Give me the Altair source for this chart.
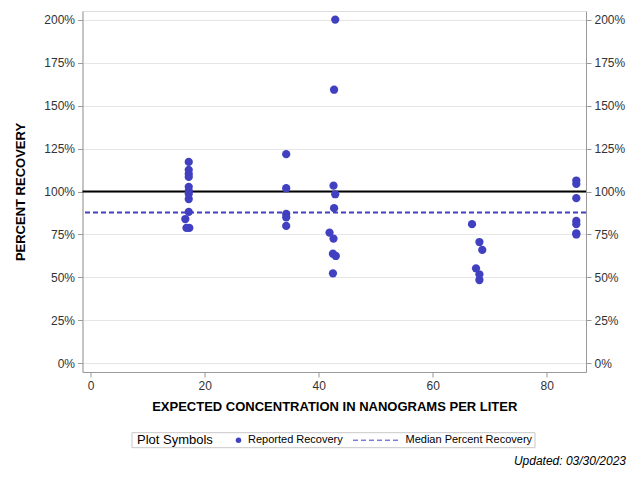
import altair as alt
import pandas as pd

# ---- data ----
conc = [17.2, 17.2, 17.2, 17.2, 17.2, 17.2, 17.2, 17.2, 17.2, 16.6, 16.8, 17.3,
        34.3, 34.3, 34.3, 34.3, 34.3,
        42.9, 42.7, 42.6, 42.9, 42.7, 41.9, 42.6, 42.5, 43.0, 42.5,
        66.9, 68.2, 68.7, 67.6, 68.2, 68.2,
        85.2, 85.2, 85.2, 85.2, 85.2, 85.2, 85.2]
recovery = [117.2, 112.6, 110.3, 108.5, 102.7, 100.4, 98.7, 95.6, 88.1, 84.0, 78.8, 78.8,
            121.7, 101.9, 87.0, 85.0, 80.0,
            200.0, 159.2, 103.4, 98.4, 90.3, 76.1, 72.6, 63.8, 62.5, 52.4,
            81.0, 70.6, 66.0, 55.3, 51.8, 48.5,
            106.4, 104.4, 96.1, 82.9, 81.0, 75.7, 75.0]
point_series = ["Reported Recovery"]
median_series = ["Median Percent Recovery"]
median_value = [87.8]
reference_value = [100]
y_ticks = [0, 25, 50, 75, 100, 125, 150, 175, 200]
x_ticks = [0, 20, 40, 60, 80]
updated_text = ["Updated: 03/30/2023"]

PT = "#4040C0"
AX = "#9a9a9a"
FONT = "Liberation Sans"

pts = pd.DataFrame({"conc": conc, "recovery": recovery,
                    "series": point_series * len(conc)})
med = pd.DataFrame({"recovery": median_value, "med": median_series})
ref = pd.DataFrame({"recovery": reference_value})
upd = pd.DataFrame({"t": updated_text})

W, H = 503.5, 361
xscale = alt.Scale(domain=[-1.44, 86.9], nice=False, zero=False)
yscale = alt.Scale(domain=[-5, 205], nice=False, zero=False)

common_axis = dict(values=y_ticks, labelExpr="datum.value + '%'", tickSize=5,
                   tickColor=AX, domainColor=AX, labelFontSize=12,
                   labelColor="#333333", labelFont=FONT, labelPadding=3)

yaxis_left = alt.Axis(title="PERCENT RECOVERY", grid=True, gridColor="#e6e6e6",
                      titleFontSize=13, titleFont=FONT, titleFontWeight="bold",
                      titleColor="#000000", titlePadding=16, orient="left",
                      **common_axis)
yaxis_right = alt.Axis(title=None, grid=False, orient="right", **common_axis)

xaxis = alt.Axis(values=x_ticks, title="EXPECTED CONCENTRATION IN NANOGRAMS PER LITER",
                 tickSize=5, tickColor=AX, domainColor=AX, labelFontSize=12,
                 labelColor="#333333", labelFont=FONT, labelPadding=3, grid=False,
                 titleFontSize=13, titleFont=FONT, titleFontWeight="bold",
                 titleColor="#000000", titlePadding=9)

legend_box = alt.Chart(upd).mark_rect(fill="white", fillOpacity=0, stroke="#c8c8c8",
                                      strokeWidth=1).encode(
    x=alt.value(49.5), x2=alt.value(452.5), y=alt.value(421.7), y2=alt.value(436.7))

ref_line = alt.Chart(ref).mark_rule(color="black", strokeWidth=2).encode(
    y=alt.Y("recovery:Q", scale=yscale, axis=yaxis_right))

med_line = alt.Chart(med).mark_rule(color=PT, strokeWidth=2, strokeDash=[5, 3]).encode(
    y=alt.Y("recovery:Q", scale=yscale, axis=None),
    strokeDash=alt.StrokeDash("med:N",
                              scale=alt.Scale(domain=median_series, range=[[5, 3]]),
                              legend=alt.Legend(title=None, orient="none",
                                                legendX=270, legendY=406.2,
                                                symbolType="stroke", symbolSize=2025,
                                                symbolStrokeColor=PT,
                                                symbolStrokeWidth=1,
                                                labelFontSize=11, labelFont=FONT,
                                                labelColor="#000000",
                                                labelOffset=7, padding=0)))

points = alt.Chart(pts).mark_point(size=68, color=PT, filled=True, opacity=1).encode(
    x=alt.X("conc:Q", scale=xscale, axis=xaxis),
    y=alt.Y("recovery:Q", scale=yscale, axis=yaxis_left),
    shape=alt.Shape("series:N",
                    scale=alt.Scale(domain=point_series, range=["circle"]),
                    legend=alt.Legend(title="Plot Symbols", orient="none",
                                      legendX=54.5, legendY=423.7,
                                      titleOrient="left", titleFontSize=13,
                                      titleFont=FONT, titleFontWeight="normal",
                                      titleColor="#000000", titlePadding=20,
                                      titleBaseline="middle",
                                      symbolSize=30, symbolFillColor=PT,
                                      symbolStrokeWidth=0, labelFontSize=11,
                                      labelFont=FONT, labelColor="#000000",
                                      labelOffset=4, padding=0)))

upd_text = alt.Chart(upd).mark_text(align="right", baseline="middle", fontSize=12,
                                    fontStyle="italic", font=FONT,
                                    color="#000000").encode(
    x=alt.value(543.5), y=alt.value(450), text="t:N")

chart = alt.layer(legend_box, ref_line, med_line, points, upd_text).resolve_scale(
    y="independent").properties(
    width=W, height=H,
    autosize=alt.AutoSizeParams(type="none"),
    padding={"left": 74.5, "top": 3, "right": 44, "bottom": 99},
).configure_view(stroke=AX, strokeWidth=1).configure(background="white")

chart.save("out.html", embed_options={"renderer": "svg", "actions": False})
